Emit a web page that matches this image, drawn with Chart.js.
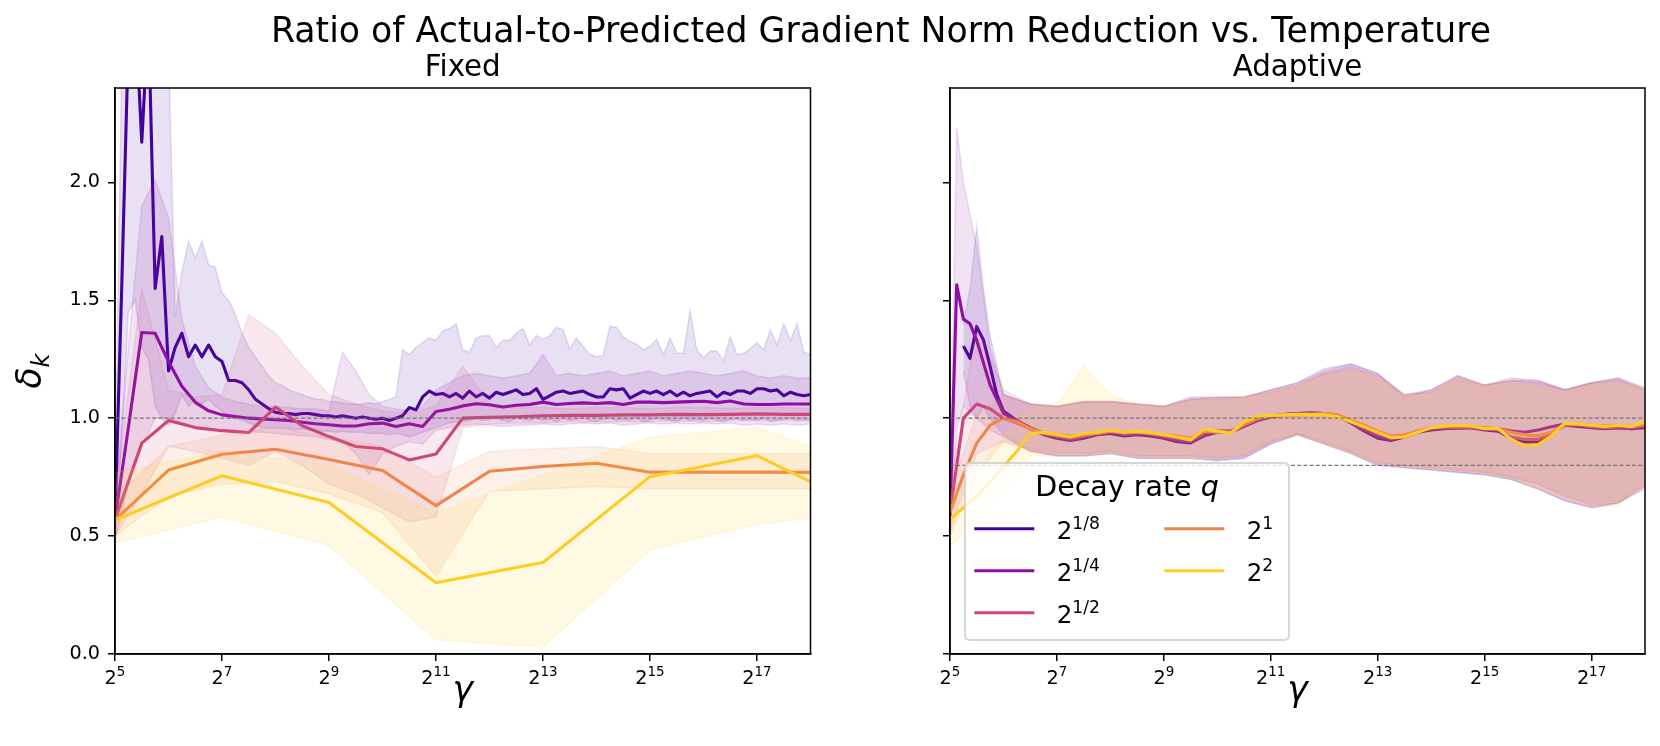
<!DOCTYPE html>
<html><head><meta charset="utf-8">
<script src="https://cdn.jsdelivr.net/npm/chart.js@4.4.1/dist/chart.umd.min.js"></script>
<style>
html,body{margin:0;padding:0;background:#fff;}
#wrap{position:relative;width:1660px;height:746px;background:#fff;overflow:hidden;}
canvas{position:absolute;top:0;}
#cL{left:0;width:1660px;height:746px;}
#cR{left:830px;width:830px;height:746px;}
</style></head><body>
<div id="wrap"><canvas id="cL" width="1660" height="746"></canvas><canvas id="cR" width="830" height="746"></canvas></div>
<script>
// ---------------- DATA ----------------
const suptitleText = 'Ratio of Actual-to-Predicted Gradient Norm Reduction vs. Temperature';
const panelTitles = ['Fixed', 'Adaptive'];
const legendTitle = 'Decay rate ';
const legendTitleVar = 'q';
const seriesLabels = ['2^{1/8}', '2^{1/4}', '2^{1/2}', '2^{1}', '2^{2}'];
const seriesColors = ['#41049d', '#8f0da4', '#cc4778', '#f2844b', '#fcce25'];
const xTickExps = [5, 7, 9, 11, 13, 15, 17];
const yTickValues = [0, 0.5, 1.0, 1.5, 2.0];
const fixedRefLines = [1.0];
const adaptiveRefLines = [1.0, 0.8];

// Fixed panel: q = 2^(1/8)
const fixedMean8 = [0.57,1.55,2.60,2.75,2.17,2.70,1.55,1.77,
1.20,1.30,1.36,1.26,1.31,1.26,1.31,1.26,
1.24,1.16,1.16,1.15,1.12,1.08,1.06,1.04,
1.025,1.02,1.02,1.015,1.02,1.02,1.015,1.01,
1.01,1.005,1.01,1.005,1.0,1.005,1.0,0.995,
1.0,0.99,1.0,1.01,1.045,1.035,1.09,1.115,
1.10,1.105,1.09,1.105,1.085,1.115,1.09,1.105,
1.085,1.11,1.10,1.11,1.12,1.10,1.105,1.125,
1.08,1.095,1.11,1.115,1.105,1.11,1.115,1.10,
1.09,1.09,1.125,1.12,1.125,1.085,1.10,1.115,
1.105,1.115,1.10,1.115,1.095,1.11,1.095,1.105,
1.11,1.115,1.09,1.11,1.10,1.115,1.115,1.105,
1.125,1.125,1.115,1.12,1.095,1.11,1.10,1.095,
1.10];
const fixedHi8 = [0.70,2.5,3.5,3.6,3.2,3.5,3.0,2.8,
2.6,1.43,1.62,1.75,1.68,1.75,1.65,1.64,
1.53,1.50,1.44,1.36,1.30,1.26,1.22,1.18,
1.15,1.14,1.12,1.11,1.10,1.09,1.08,1.08,
1.07,1.07,1.065,1.06,1.06,1.06,1.065,1.06,
1.07,1.08,1.09,1.29,1.27,1.30,1.32,1.34,
1.33,1.37,1.38,1.40,1.29,1.28,1.34,1.35,
1.35,1.30,1.33,1.33,1.36,1.38,1.31,1.35,
1.335,1.35,1.385,1.375,1.295,1.34,1.305,1.27,
1.26,1.265,1.39,1.385,1.345,1.325,1.315,1.29,
1.305,1.335,1.27,1.34,1.275,1.275,1.455,1.29,
1.255,1.285,1.285,1.245,1.345,1.27,1.275,1.295,
1.32,1.29,1.375,1.31,1.40,1.33,1.40,1.28,
1.27];
const fixedLo8 = [0.48,0.90,1.45,1.50,1.30,1.25,1.05,1.00,
0.97,1.02,1.10,1.05,1.08,1.06,1.08,1.05,
1.03,1.00,1.00,0.99,0.98,0.97,0.96,0.96,
0.96,0.96,0.955,0.95,0.955,0.95,0.95,0.945,
0.945,0.94,0.945,0.94,0.94,0.94,0.935,0.935,
0.935,0.93,0.935,0.93,0.92,0.93,0.94,0.95,
0.96,0.97,0.98,0.985,0.985,0.99,1.0,0.99,
0.995,1.0,0.99,0.985,1.0,0.995,0.99,1.0,
0.99,0.995,0.985,1.0,0.99,0.995,1.0,0.99,
0.985,0.995,1.0,0.99,0.995,0.99,1.0,0.985,
0.99,1.0,0.995,0.99,0.985,1.0,0.99,0.995,
0.99,1.0,0.99,0.985,0.995,1.0,0.99,0.995,
0.99,1.0,0.985,0.99,0.995,1.0,0.99,0.995,
0.99];

// Fixed panel: q = 2^(1/4)
const fixedMean4 = [0.57,0.96,1.363,1.36,1.24,1.135,1.067,1.031,
1.014,1.007,1.0,0.997,0.993,0.99,0.983,0.976,
0.972,0.967,0.967,0.976,0.979,0.965,0.976,0.965,
1.028,1.038,1.052,1.061,1.057,1.047,1.055,1.058,
1.068,1.058,1.062,1.065,1.062,1.066,1.058,1.068,
1.068,1.066,1.068,1.07,1.072,1.066,1.073,1.06,
1.058,1.058,1.06,1.06,1.06];
const fixedHi4 = [0.66,1.30,1.90,2.01,1.85,1.42,1.22,1.13,
1.09,1.07,1.06,1.05,1.05,1.045,1.04,1.04,
1.03,1.28,1.20,1.10,1.05,1.04,1.03,1.05,
1.12,1.15,1.18,1.19,1.18,1.17,1.18,1.19,
1.27,1.18,1.19,1.18,1.19,1.20,1.18,1.19,
1.20,1.18,1.19,1.20,1.19,1.18,1.19,1.20,
1.18,1.17,1.18,1.17,1.17];
const fixedLo4 = [0.48,0.72,0.88,1.0,1.0,0.98,0.96,0.95,
0.95,0.95,0.94,0.94,0.935,0.93,0.925,0.92,
0.91,0.90,0.85,0.76,0.85,0.88,0.90,0.89,
0.95,0.96,0.97,0.975,0.97,0.965,0.97,0.97,
0.975,0.97,0.975,0.98,0.975,0.98,0.97,0.975,
0.98,0.975,0.98,0.975,0.98,0.975,0.98,0.97,
0.975,0.97,0.975,0.97,0.975];

// Fixed panel: q = 2^(1/2)
const fixedMean2 = [0.568,0.894,0.99,0.96,0.947,0.939,1.047,0.968,0.922,0.880,0.870,0.823,0.848,
1.0,1.004,1.006,1.01,1.012,1.012,1.014,1.014,1.016,1.015,1.016,1.018,1.016,1.016];
const fixedHi2 = [0.68,1.55,1.12,1.09,1.10,1.44,1.36,1.22,1.10,1.06,1.03,1.02,1.05,
1.22,1.06,1.045,1.045,1.04,1.045,1.045,1.04,1.045,1.045,1.04,1.045,1.045,1.04];
const fixedLo2 = [0.50,0.68,0.88,0.86,0.83,0.80,0.86,0.80,0.72,0.68,0.62,0.56,0.58,
0.96,0.975,0.98,0.98,0.985,0.985,0.985,0.985,0.99,0.985,0.99,0.99,0.99,0.99];

// Fixed panel: q = 2
const fixedMean1 = [0.568,0.78,0.847,0.868,0.825,0.778,0.629,0.775,0.795,0.809,0.771,0.771,0.771,0.77];
const fixedHi1 = [0.66,0.88,0.93,0.96,0.92,0.88,0.75,0.86,0.87,0.88,0.85,0.85,0.85,0.85];
const fixedLo1 = [0.50,0.67,0.72,0.73,0.68,0.60,0.33,0.69,0.70,0.71,0.70,0.70,0.70,0.70];

// Fixed panel: q = 4 (last point lies past the right edge)
const fixedMean0 = [0.568,0.756,0.642,0.302,0.388,0.752,0.841,0.62];
const fixedHi0 = [0.77,0.86,0.80,0.60,0.76,0.92,0.96,0.80];
const fixedLo0 = [0.47,0.58,0.46,0.06,0.03,0.44,0.55,0.60];

// Adaptive panel: exponents of gamma where early samples were read
const adaptEarlyExp8 = [5.25,5.375,5.5,5.625,5.75,5.875];
const adaptEarlyExp4 = [5.0,5.125,5.25,5.375,5.5,5.75];
const bandEarlyExp8 = [5.25,5.375,5.5,5.625,5.75];
const bandEarlyExp4 = [5.0,5.125,5.25,5.5,5.75];

const adaptMean8 = [1.306,1.254,1.388,1.332,1.22,1.10,
1.03,0.99,0.955,0.93, 0.915,0.905,0.915,0.93, 0.935,0.925,0.93,0.925,
0.915,0.90,0.895,0.925, 0.94,0.94,0.965,0.99, 1.005,1.015,1.02,1.022,
1.02,1.01,0.98,0.945, 0.915,0.905,0.92,0.94, 0.95,0.955,0.96,0.96,
0.95,0.945,0.915,0.90, 0.898,0.935,0.97,0.965, 0.96,0.955,0.96,0.955, 0.96];
const adaptMean4 = [0.58,1.565,1.42,1.40,1.33,1.14,
1.02,0.99,0.96,0.935, 0.92,0.91,0.92,0.935, 0.94,0.93,0.935,0.93,
0.92,0.905,0.90,0.93, 0.945,0.945,0.97,0.995, 1.01,1.015,1.02,1.022,
1.02,1.01,0.98,0.95, 0.925,0.91,0.925,0.945, 0.955,0.957,0.957,0.96,
0.955,0.955,0.945,0.94, 0.95,0.964,0.975,0.97, 0.962,0.958,0.96,0.955, 0.965];
const adaptMean2 = [0.60,1.0,1.06,1.04, 1.0,0.98,0.955,0.935, 0.925,0.915,0.925,0.935,
0.945,0.935,0.94,0.935, 0.925,0.915,0.905,0.94, 0.945,0.94,0.97,0.995,
1.008,1.012,1.015,1.015, 1.015,1.008,0.985,0.96, 0.935,0.92,0.925,0.945,
0.958,0.962,0.963,0.962, 0.955,0.95,0.92,0.91, 0.91,0.935,0.97,0.972,
0.965,0.96,0.965,0.962, 0.97];
const adaptMean1 = [0.60,0.76,0.894,0.97, 1.0,0.985,0.955,0.935, 0.93,0.925,0.93,0.935,
0.945,0.94,0.94,0.935, 0.93,0.925,0.915,0.945, 0.94,0.94,0.975,1.0,
1.01,1.012,1.015,1.017, 1.02,1.015,0.99,0.97, 0.945,0.925,0.93,0.945,
0.96,0.965,0.967,0.965, 0.96,0.955,0.94,0.93, 0.925,0.94,0.975,0.975,
0.97,0.968,0.97,0.965, 0.975];
const adaptMean0 = [0.572,0.62,0.668,0.73, 0.795,0.86,0.935,0.94, 0.93,0.92,0.935,0.94,
0.95,0.94,0.945,0.939, 0.93,0.92,0.908,0.953, 0.945,0.936,0.985,1.008,
1.012,1.014,1.016,1.015, 1.014,1.006,0.985,0.963, 0.94,0.917,0.92,0.94,
0.96,0.967,0.97,0.968, 0.955,0.957,0.91,0.882, 0.888,0.925,0.979,0.975,
0.97,0.965,0.97,0.965, 0.985];

const adaptHi8 = [1.40,1.55,1.81,1.55,1.35, 1.10,1.06,1.05,1.07,1.07,1.06,1.05,1.09,1.09,1.09,1.12,1.15,1.21,1.23,1.19,1.09,1.12,1.18,1.14,1.17,1.16,1.12,1.15,1.17,1.12];
const adaptLo8 = [1.20,1.05,1.00,1.05,1.0, 0.93,0.86,0.84,0.84,0.85,0.83,0.83,0.83,0.82,0.83,0.89,0.93,0.89,0.85,0.80,0.79,0.78,0.77,0.76,0.74,0.70,0.65,0.62,0.64,0.70];
const adaptHi4 = [0.66,2.23,2.0,1.73,1.30, 1.10,1.06,1.05,1.07,1.07,1.06,1.05,1.08,1.09,1.09,1.12,1.15,1.20,1.23,1.19,1.10,1.12,1.18,1.14,1.16,1.16,1.12,1.15,1.17,1.13];
const adaptLo4 = [0.50,0.95,1.05,1.0,0.95, 0.92,0.86,0.84,0.84,0.85,0.83,0.83,0.83,0.82,0.83,0.89,0.93,0.89,0.85,0.80,0.79,0.78,0.77,0.76,0.74,0.70,0.65,0.62,0.64,0.71];
const adaptHi2 = [0.70,1.40,1.12,1.06,1.05,1.07,1.07,1.06,1.05,1.08,1.08,1.09,1.11,1.14,1.19,1.22,1.18,1.10,1.11,1.17,1.14,1.16,1.15,1.12,1.15,1.16,1.12];
const adaptLo2 = [0.52,0.85,0.90,0.87,0.85,0.85,0.86,0.84,0.84,0.84,0.83,0.84,0.90,0.935,0.90,0.86,0.81,0.80,0.79,0.78,0.77,0.75,0.72,0.67,0.63,0.64,0.72];
const adaptHi1 = [0.68,1.02,1.09,1.06,1.05,1.07,1.07,1.06,1.05,1.08,1.085,1.09,1.11,1.14,1.19,1.21,1.18,1.10,1.11,1.16,1.14,1.16,1.15,1.12,1.15,1.16,1.12];
const adaptLo1 = [0.50,0.76,0.90,0.86,0.85,0.85,0.86,0.84,0.84,0.84,0.83,0.84,0.90,0.935,0.90,0.86,0.81,0.80,0.79,0.78,0.77,0.75,0.72,0.67,0.64,0.65,0.72];
const adaptHi0 = [0.66,0.78,0.92,1.05,1.06,1.22,1.10,1.06,1.05,1.07,1.08,1.09,1.11,1.14,1.18,1.20,1.17,1.09,1.11,1.17,1.14,1.15,1.13,1.11,1.14,1.15,1.13];
const adaptLo0 = [0.46,0.56,0.68,0.84,0.84,0.84,0.85,0.84,0.83,0.83,0.83,0.85,0.91,0.93,0.89,0.85,0.81,0.80,0.79,0.78,0.77,0.74,0.70,0.66,0.62,0.63,0.72];

// ---------------- HELPERS ----------------
const FONT = "'DejaVu Sans', sans-serif";
const BAND_ALPHA = 0.12;
const LINE_W = 3.1;
function rng(a, b, s) { const out = []; for (let v = a; v <= b + 1e-9; v += s) out.push(Math.round(v * 1000) / 1000); return out; }
const toGamma = e => Math.pow(2, e);
function pts(exps, vals) { return vals.map((v, i) => ({ x: toGamma(exps[i]), y: v })); }
function hexA(hex, a) {
  const n = parseInt(hex.slice(1), 16);
  return `rgba(${(n >> 16) & 255},${(n >> 8) & 255},${n & 255},${a})`;
}
let orderCounter = 1000;
function lineDS(exps, vals, color) {
  return { data: pts(exps, vals), borderColor: color, borderWidth: LINE_W, pointRadius: 0,
    fill: false, tension: 0, borderJoinStyle: 'round', clip: 0, order: orderCounter-- };
}
function bandDS(exps, hi, lo, color) {
  const c = hexA(color, BAND_ALPHA), o = orderCounter--;
  return [
    { data: pts(exps, hi), borderColor: c, borderWidth: 1.6, pointRadius: 0, fill: false, tension: 0, clip: 0, order: o },
    { data: pts(exps, lo), borderColor: c, backgroundColor: c, borderWidth: 1.6, pointRadius: 0, fill: '-1', tension: 0, clip: 0, order: o }
  ];
}
function refDS(y) {
  return { data: [{ x: toGamma(5), y: y }, { x: toGamma(18), y: y }], borderColor: 'rgba(110,110,110,0.9)',
    borderWidth: 1.1, borderDash: [4, 2.2], pointRadius: 0, fill: false, clip: 0, order: orderCounter-- };
}
function drawSup(ctx, base, sup, x, y, size, align) {
  const bf = `${size}px ${FONT}`, sf = `${size * 0.7}px ${FONT}`;
  ctx.font = bf; const bw = ctx.measureText(base).width;
  ctx.font = sf; const sw = ctx.measureText(sup).width;
  const sx = align === 'center' ? x - (bw + sw) / 2 : x;
  ctx.textAlign = 'left'; ctx.textBaseline = 'alphabetic';
  ctx.font = bf; ctx.fillText(base, sx, y);
  ctx.font = sf; ctx.fillText(sup, sx + bw, y - size * 0.42);
}
function roundRect(ctx, x, y, w, h, r) {
  ctx.beginPath();
  ctx.moveTo(x + r, y); ctx.lineTo(x + w - r, y); ctx.quadraticCurveTo(x + w, y, x + w, y + r);
  ctx.lineTo(x + w, y + h - r); ctx.quadraticCurveTo(x + w, y + h, x + w - r, y + h);
  ctx.lineTo(x + r, y + h); ctx.quadraticCurveTo(x, y + h, x, y + h - r);
  ctx.lineTo(x, y + r); ctx.quadraticCurveTo(x, y, x + r, y); ctx.closePath();
}
function drawLegend(ctx, offX) {
  const L = 965 - offX, T = 463, R = 1289 - offX, B = 640;
  roundRect(ctx, L, T, R - L, B - T, 5);
  ctx.fillStyle = 'rgba(255,255,255,0.8)'; ctx.fill();
  ctx.strokeStyle = 'rgba(204,204,204,0.8)'; ctx.lineWidth = 1.9; ctx.stroke();
  const tf = 28.5;
  ctx.fillStyle = '#000'; ctx.textAlign = 'left'; ctx.textBaseline = 'alphabetic';
  ctx.font = `${tf}px ${FONT}`; const w1 = ctx.measureText(legendTitle).width;
  ctx.font = `italic ${tf}px ${FONT}`; const w2 = ctx.measureText(legendTitleVar).width;
  const x0 = (L + R) / 2 - (w1 + w2) / 2;
  ctx.font = `${tf}px ${FONT}`; ctx.fillText(legendTitle, x0, 495.7);
  ctx.font = `italic ${tf}px ${FONT}`; ctx.fillText(legendTitleVar, x0 + w1, 495.7);
  const cols = [974.3 - offX, 1164.3 - offX], rows = [528.7, 570.7, 612.7];
  seriesLabels.forEach((lab, i) => {
    const c = i < 3 ? 0 : 1, r = i < 3 ? i : i - 3;
    const hx = cols[c], hy = rows[r];
    ctx.strokeStyle = seriesColors[i]; ctx.lineWidth = LINE_W; ctx.lineCap = 'butt';
    ctx.beginPath(); ctx.moveTo(hx, hy); ctx.lineTo(hx + 60, hy); ctx.stroke();
    const m = lab.match(/^(.*)\^\{(.*)\}$/);
    ctx.fillStyle = '#000';
    drawSup(ctx, m[1], m[2], hx + 82.4, hy + 10.6, 24.5, 'left');
  });
}

const decorPlugin = {
  id: 'decor',
  afterDraw(chart, args, o) {
    const { ctx, chartArea: a, scales } = chart;
    ctx.save();
    ctx.strokeStyle = '#000'; ctx.lineWidth = 1.5;
    ctx.strokeRect(a.left, a.top, a.right - a.left, a.bottom - a.top);
    ctx.fillStyle = '#000';
    xTickExps.forEach(e => {
      const px = scales.x.getPixelForValue(toGamma(e));
      drawSup(ctx, '2', String(e), px, 684, 19.2, 'center');
    });
    const cx = (a.left + a.right) / 2;
    ctx.textAlign = 'center'; ctx.textBaseline = 'alphabetic';
    ctx.font = `italic 34.6px ${FONT}`;
    ctx.fillText('\u03b3', cx, 701);
    ctx.font = `29.3px ${FONT}`;
    ctx.fillText(o.title, cx, 76);
    if (o.ylabel) {
      ctx.save();
      const cy = (a.top + a.bottom) / 2;
      ctx.translate(41, cy); ctx.rotate(-Math.PI / 2);
      ctx.font = `italic 34.6px ${FONT}`; const w1 = ctx.measureText('\u03b4').width;
      ctx.font = `italic ${34.6 * 0.7}px ${FONT}`; const w2 = ctx.measureText('k').width;
      const sx = -(w1 + w2) / 2;
      ctx.textAlign = 'left';
      ctx.font = `italic 34.6px ${FONT}`; ctx.fillText('\u03b4', sx, 0);
      ctx.font = `italic ${34.6 * 0.7}px ${FONT}`; ctx.fillText('k', sx + w1, 7.6);
      ctx.restore();
    }
    if (o.suptitle) {
      ctx.font = `34.7px ${FONT}`; ctx.textAlign = 'center';
      ctx.fillText(suptitleText, 881, 42);
    }
    if (o.legend) drawLegend(ctx, o.offX);
    ctx.restore();
  }
};

function makeOptions(showYLabels, yAxisWidth, padRight, pluginOpts) {
  const grid = { display: true, drawOnChartArea: false, drawTicks: true, tickLength: 7, color: '#000', lineWidth: 1.5 };
  const border = { display: true, color: '#000', width: 1.5 };
  return {
    responsive: false, animation: false, devicePixelRatio: 1, events: [],
    layout: { padding: { top: 88, left: 0, right: padRight, bottom: 0 } },
    plugins: { legend: { display: false }, tooltip: { enabled: false }, title: { display: false }, decor: pluginOpts },
    scales: {
      x: { type: 'logarithmic', min: toGamma(5), max: toGamma(18),
        afterBuildTicks: s => { s.ticks = xTickExps.map(e => ({ value: toGamma(e) })); },
        afterFit: s => { s.height = 92; },
        ticks: { display: false }, grid: grid, border: border },
      y: { type: 'linear', min: 0, max: 2.4,
        afterBuildTicks: s => { s.ticks = yTickValues.map(v => ({ value: v })); },
        afterFit: s => { s.width = yAxisWidth; },
        ticks: { display: showYLabels, callback: v => Number(v).toFixed(1), font: { family: FONT, size: 19.2 }, color: '#000', padding: 8 },
        grid: grid, border: border }
    }
  };
}

// ---------------- BUILD ----------------
const fixedSets = [];
[
  [rng(5, 18, 0.125), fixedMean8, fixedHi8, fixedLo8],
  [rng(5, 18, 0.25), fixedMean4, fixedHi4, fixedLo4],
  [rng(5, 18, 0.5), fixedMean2, fixedHi2, fixedLo2],
  [rng(5, 18, 1), fixedMean1, fixedHi1, fixedLo1],
  [rng(5, 19, 2), fixedMean0, fixedHi0, fixedLo0]
].forEach((s, i) => {
  fixedSets.push(lineDS(s[0], s[1], seriesColors[i]));
  fixedSets.push(...bandDS(s[0], s[2], s[3], seriesColors[i]));
});
fixedRefLines.forEach(y => fixedSets.push(refDS(y)));

const gridAll = rng(5, 18, 0.25), gridLate = rng(6, 18, 0.25);
const bandAll = rng(5, 18, 0.5), bandLate = rng(6, 18, 0.5);
const adaptSets = [];
[
  [adaptEarlyExp8.concat(gridLate), adaptMean8, bandEarlyExp8.concat(bandLate), adaptHi8, adaptLo8],
  [adaptEarlyExp4.concat(gridLate), adaptMean4, bandEarlyExp4.concat(bandLate), adaptHi4, adaptLo4],
  [gridAll, adaptMean2, bandAll, adaptHi2, adaptLo2],
  [gridAll, adaptMean1, bandAll, adaptHi1, adaptLo1],
  [gridAll, adaptMean0, bandAll, adaptHi0, adaptLo0]
].forEach((s, i) => {
  adaptSets.push(lineDS(s[0], s[1], seriesColors[i]));
  adaptSets.push(...bandDS(s[2], s[3], s[4], seriesColors[i]));
});
adaptiveRefLines.forEach(y => adaptSets.push(refDS(y)));

Chart.defaults.font.family = FONT;
new Chart(document.getElementById('cL'), {
  type: 'line', data: { datasets: fixedSets },
  options: makeOptions(true, 115, 1660 - 810.5, { title: panelTitles[0], ylabel: true, suptitle: true, legend: false, offX: 0 }),
  plugins: [decorPlugin]
});
new Chart(document.getElementById('cR'), {
  type: 'line', data: { datasets: adaptSets },
  options: makeOptions(false, 120, 15, { title: panelTitles[1], ylabel: false, suptitle: false, legend: true, offX: 830 }),
  plugins: [decorPlugin]
});
</script></body></html>
